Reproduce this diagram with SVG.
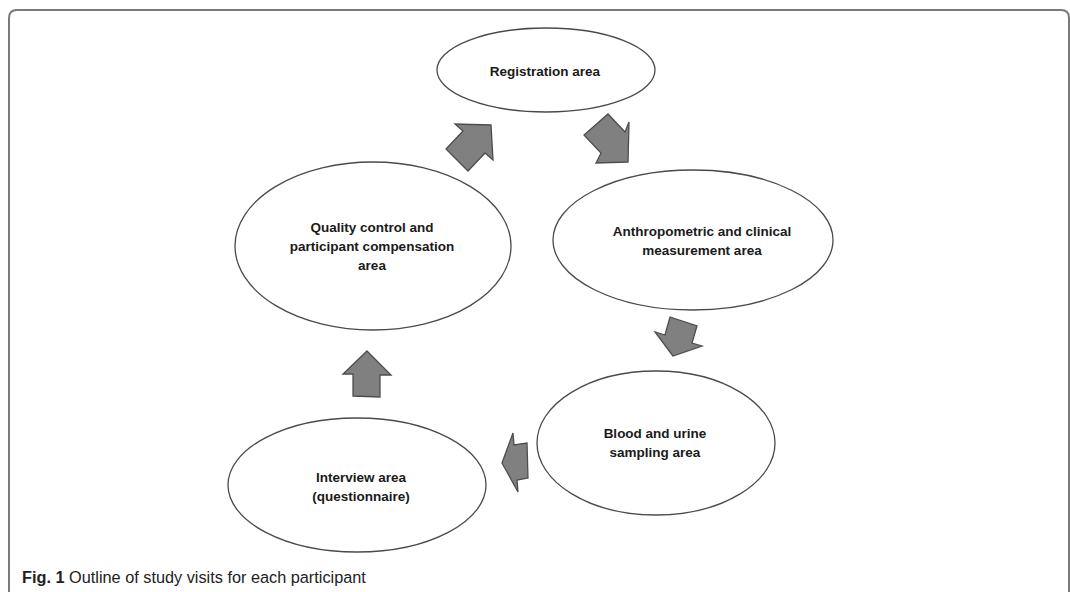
<svg xmlns="http://www.w3.org/2000/svg" width="1070" height="592" viewBox="0 0 1070 592">
<style>
.frame{fill:none;stroke:#7a7a7a;stroke-width:2}
.node ellipse{fill:#ffffff;stroke:#4a4a4a;stroke-width:1.3}
.node text{font-family:"Liberation Sans",Arial,sans-serif;font-weight:bold;font-size:13.5px;fill:#1a1a1a;text-anchor:middle}
.arrow{fill:#808080;stroke:#4d4d4d;stroke-width:1.3;stroke-linejoin:miter}
.cap{font-family:"Liberation Sans",Arial,sans-serif;font-size:16.3px;fill:#222}
</style>
<rect width="1070" height="592" fill="#ffffff"/>
<path class="frame" d="M9,592 V18 Q9,10 17,10 H1061 Q1069,10 1069,18 V592"/>
<g id="registration" class="node">
<ellipse cx="546" cy="70" rx="109" ry="42"/>
<text x="545" y="76">Registration area</text>
</g>
<g id="anthropometric" class="node">
<ellipse cx="693" cy="240" rx="140" ry="70"/>
<text x="702" y="236">Anthropometric and clinical</text>
<text x="702" y="255">measurement area</text>
</g>
<g id="blood" class="node">
<ellipse cx="656" cy="443" rx="119" ry="72"/>
<text x="655" y="438">Blood and urine</text>
<text x="655" y="457">sampling area</text>
</g>
<g id="interview" class="node">
<ellipse cx="357" cy="485" rx="129" ry="67"/>
<text x="361" y="482">Interview area</text>
<text x="361" y="501">(questionnaire)</text>
</g>
<g id="quality" class="node">
<ellipse cx="373" cy="246" rx="138" ry="84"/>
<text x="372" y="232">Quality control and</text>
<text x="372" y="251">participant compensation</text>
<text x="372" y="270">area</text>
</g>
<g id="connectors">
<polygon class="arrow" points="491,125 493,160 485,153 468,171 446,149 463,131 455,124"/>
<polygon class="arrow" points="628,162 596,163 601,153 584,135 608,114 625,132 629,122"/>
<polygon class="arrow" points="673,356 655,332 665,335 670,317 697,326 692,343 702,346"/>
<polygon class="arrow" points="502,463 513,433 514,445 527,443 528,478 517,480 518,492"/>
<polygon class="arrow" points="367,351 391,375 380,375 380,397 353,396 353,374 343,374"/>
</g>
<text class="cap" x="22" y="583"><tspan font-weight="bold">Fig. 1</tspan> Outline of study visits for each participant</text>
</svg>
